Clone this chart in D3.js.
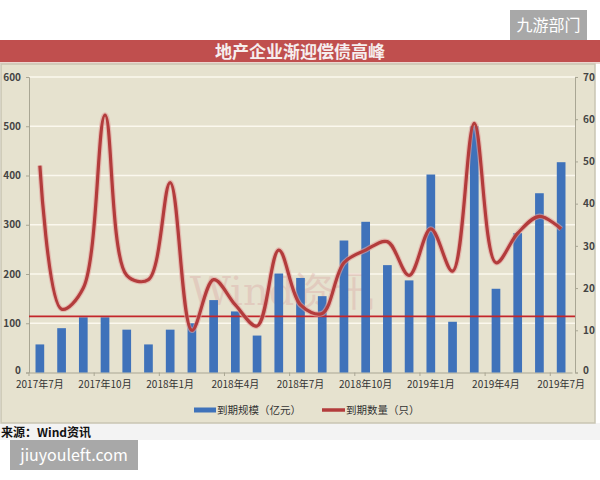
<!DOCTYPE html>
<html><head><meta charset="utf-8">
<script src="https://cdn.jsdelivr.net/npm/d3@7"></script>
<style>body{margin:0;background:#fff}svg{display:block}</style>
</head><body><svg id="c" width="600" height="480"></svg>
<script>
const months = ["2017年7月","2017年8月","2017年9月","2017年10月","2017年11月","2017年12月",
  "2018年1月","2018年2月","2018年3月","2018年4月","2018年5月","2018年6月",
  "2018年7月","2018年8月","2018年9月","2018年10月","2018年11月","2018年12月",
  "2019年1月","2019年2月","2019年3月","2019年4月","2019年5月","2019年6月","2019年7月"];
const tickLabels = ["2017年7月","2017年10月","2018年1月","2018年4月","2018年7月","2018年10月","2019年1月","2019年4月","2019年7月"];
const maturityScale = [57,90,112,112,87,57,87,100,147,124,75,201,192,155,268,306,218,187,402,103,500,170,283,364,427];
const maturityCount = [49,15,20,61,23,22,45,10,22,16,11,29,16,14,26,29,31,23,34,24,59,26,33,37,34];
const referenceLevel = [114];
const leftTicks = [0,100,200,300,400,500,600];
const rightTicks = [0,10,20,30,40,50,60,70];
const seriesNames = ["到期规模（亿元）","到期数量（只）"];
const title = "地产企业渐迎偿债高峰";
const source = "来源：Wind资讯";

const svg = d3.select("#c");
const F = "'Noto Sans CJK SC','Noto Sans',sans-serif";

// page background + watermark boxes
svg.append("rect").attr("x",0).attr("y",0).attr("width",600).attr("height",480).attr("fill","#fff");
svg.append("rect").attr("x",0).attr("y",423).attr("width",600).attr("height",17).attr("fill","#f3f3f3");
svg.append("rect").attr("x",510).attr("y",10).attr("width",77).attr("height",30).attr("fill","#a8a8a8");
svg.append("text").attr("x",548.5).attr("y",31).attr("text-anchor","middle").attr("fill","#fff")
  .attr("font-family",F).attr("font-size",16).text("九游部门");

// title band
svg.append("rect").attr("x",0).attr("y",40).attr("width",600).attr("height",22).attr("fill","#c04f4e");
svg.append("rect").attr("x",0).attr("y",62).attr("width",600).attr("height",2).attr("fill","#ecd6cf");
svg.append("text").attr("x",300).attr("y",58).attr("text-anchor","middle").attr("fill","#f6eeee")
  .attr("font-family",F).attr("font-weight","bold").attr("font-size",17).text(title);

// panel
svg.append("rect").attr("x",1).attr("y",64).attr("width",594).attr("height",359)
  .attr("fill","#e6e2cf").attr("stroke","#c9c5b3").attr("stroke-width",1.5);

const x = d3.scaleBand().domain(months).range([29,572]).paddingInner(0.6).paddingOuter(0.3);
const yL = d3.scaleLinear().domain([0,600]).range([372.5,77]);
const yR = d3.scaleLinear().domain([0,70]).range([372.5,77]);
const cx = d => x(d) + x.bandwidth()/2;

// grid
svg.append("g").selectAll("line").data(leftTicks.slice(1)).join("line")
  .attr("x1",29).attr("x2",575).attr("y1",d=>yL(d)).attr("y2",d=>yL(d))
  .attr("stroke","#fbf8ee").attr("stroke-width",1.3);

// watermark
svg.append("text").attr("x",282).attr("y",305).attr("text-anchor","middle")
  .attr("font-family","'DejaVu Serif',serif").attr("font-size",40).attr("fill","#d9a3a0").attr("opacity",0.35)
  .text("Wind资讯");

// axes
const gL = svg.append("g").attr("transform","translate(29,0)")
  .call(d3.axisLeft(yL).tickValues(leftTicks).tickSize(3).tickPadding(5));
const gR = svg.append("g").attr("transform","translate(575,0)")
  .call(d3.axisRight(yR).tickValues(rightTicks).tickSize(3).tickPadding(5));
[gL,gR].forEach(g=>{
  g.select(".domain").attr("stroke","#a9a694");
  g.selectAll(".tick line").attr("stroke","#a9a694");
  g.selectAll("text").attr("font-family",F).attr("font-size",10).attr("font-weight","bold").attr("fill","#444");
});
gL.selectAll(".tick text").filter(d=>d===0).attr("dy","0.1em");
gR.selectAll(".tick text").filter(d=>d===0).attr("dy","0.1em");
const gX = svg.append("g").attr("transform","translate(0,372.5)")
  .call(d3.axisBottom(x).tickValues(tickLabels).tickSize(0).tickPadding(8));
gX.select(".domain").attr("stroke","#a9a694");
gX.selectAll("text").attr("font-family",F).attr("font-size",10).attr("fill","#333");
// category boundary ticks
svg.append("g").selectAll("line").data(tickLabels).join("line")
  .attr("x1",d=>x(d)-x.step()*0.3).attr("x2",d=>x(d)-x.step()*0.3)
  .attr("y1",372.5).attr("y2",376).attr("stroke","#a9a694");

// bars
svg.append("g").selectAll("rect").data(months).join("rect")
  .attr("x",d=>x(d)).attr("width",x.bandwidth())
  .attr("y",(d,i)=>yL(maturityScale[i])).attr("height",(d,i)=>yL(0)-yL(maturityScale[i]))
  .attr("fill","#3f72ba");

// reference line
svg.append("g").selectAll("line").data(referenceLevel).join("line")
  .attr("x1",29).attr("x2",575).attr("y1",d=>yL(d)).attr("y2",d=>yL(d))
  .attr("stroke","#c3262b").attr("stroke-width",1.6);

// count line
const line = d3.line().x((d,i)=>cx(months[i])).y(d=>yR(d)).curve(d3.curveCatmullRom.alpha(0.5));
svg.append("path").attr("d",line(maturityCount)).attr("fill","none")
  .attr("stroke","#e3a19d").attr("stroke-width",5.5).attr("opacity",0.6);
svg.append("path").attr("d",line(maturityCount)).attr("fill","none")
  .attr("stroke","#b33c3c").attr("stroke-width",3.2).attr("stroke-linejoin","round");

// legend
svg.append("rect").attr("x",194).attr("y",407.5).attr("width",22).attr("height",5).attr("fill","#3f72ba");
svg.append("text").attr("x",217).attr("y",414).attr("font-family",F).attr("font-size",10.5).attr("fill","#333").text(seriesNames[0]);
svg.append("line").attr("x1",322).attr("x2",345).attr("y1",410).attr("y2",410).attr("stroke","#b33c3c").attr("stroke-width",3.5);
svg.append("text").attr("x",346).attr("y",414).attr("font-family",F).attr("font-size",10.5).attr("fill","#333").text(seriesNames[1]);

// source
svg.append("text").attr("x",1).attr("y",437).attr("font-family",F).attr("font-weight","bold").attr("font-size",12).attr("fill","#111").text(source);
svg.append("rect").attr("x",10).attr("y",440).attr("width",128).attr("height",30).attr("fill","#a8a8a8");
svg.append("text").attr("x",74).attr("y",461).attr("text-anchor","middle").attr("fill","#fff")
  .attr("font-family",F).attr("font-size",16).text("jiuyouleft.com");
</script></body></html>
